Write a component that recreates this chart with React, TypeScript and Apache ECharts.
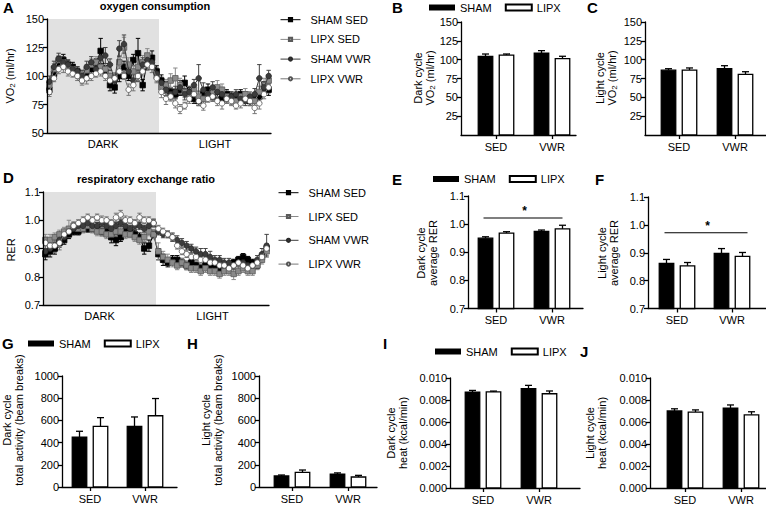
import React, { useEffect, useRef } from 'react';
import * as echarts from 'echarts';

const FONT = '"Liberation Sans", Arial, Helvetica, sans-serif';

// ---------- Panel A: oxygen consumption (ml/hr), 24 dark + 24 light bins ----------
const vo2ShamSedDark = [88, 102, 112, 114, 110, 108, 104, 98, 100, 106, 110, 122, 104, 92, 90, 100, 108, 100, 114, 120, 92, 112, 116, 104];
const vo2ShamSedLight = [96, 90, 86, 84, 88, 94, 86, 80, 78, 84, 88, 82, 86, 80, 84, 82, 80, 84, 82, 78, 80, 82, 90, 88];
const vo2LipxSedDark = [92, 106, 114, 112, 108, 106, 102, 100, 105, 110, 112, 108, 106, 100, 98, 112, 125, 110, 104, 108, 112, 118, 108, 100];
const vo2LipxSedLight = [90, 92, 96, 98, 92, 86, 84, 88, 82, 80, 84, 86, 90, 88, 82, 80, 78, 82, 84, 80, 78, 86, 92, 96];
const vo2ShamVwrDark = [95, 108, 115, 112, 110, 106, 104, 100, 108, 112, 106, 116, 118, 110, 96, 124, 128, 104, 96, 100, 110, 114, 112, 102];
const vo2ShamVwrLight = [94, 88, 84, 86, 90, 84, 86, 92, 98, 88, 84, 90, 86, 84, 80, 82, 84, 80, 78, 82, 84, 98, 90, 100];
const vo2LipxVwrDark = [86, 98, 106, 108, 104, 102, 100, 96, 98, 100, 102, 104, 100, 96, 98, 104, 100, 88, 92, 100, 104, 110, 108, 98];
const vo2LipxVwrLight = [86, 80, 82, 76, 71, 74, 80, 84, 78, 74, 80, 82, 78, 76, 80, 78, 74, 76, 80, 78, 72, 76, 84, 90];

const vo2ShamSedErr = [4, 5, 5, 5, 4, 4, 4, 4, 4, 5, 5, 11, 5, 5, 5, 5, 5, 4, 5, 13, 5, 6, 6, 5, 5, 5, 4, 4, 5, 6, 4, 4, 4, 4, 5, 4, 5, 4, 4, 4, 4, 4, 4, 4, 4, 5, 5, 5];
const vo2LipxSedErr = [5, 5, 4, 4, 4, 4, 4, 5, 5, 5, 5, 5, 5, 5, 5, 6, 9, 6, 5, 5, 6, 6, 5, 5, 5, 5, 6, 9, 6, 5, 5, 5, 5, 4, 5, 5, 6, 5, 5, 5, 4, 4, 5, 4, 4, 5, 6, 5];
const vo2ShamVwrErr = [5, 5, 5, 5, 4, 4, 4, 5, 5, 5, 5, 6, 7, 5, 5, 7, 8, 5, 5, 5, 6, 5, 5, 5, 5, 5, 5, 5, 6, 5, 5, 5, 12, 6, 5, 5, 5, 5, 4, 4, 4, 5, 4, 4, 5, 12, 5, 5];
const vo2LipxVwrErr = [4, 3, 4, 5, 4, 3, 4, 4, 5, 4, 3, 4, 4, 5, 4, 4, 3, 5, 5, 4, 4, 5, 5, 4, 5, 5, 4, 4, 4, 3, 4, 5, 4, 4, 3, 4, 4, 5, 4, 4, 3, 4, 4, 4, 5, 5, 4, 5];

// ---------- Panel D: respiratory exchange ratio ----------
const rerShamSedDark = [0.88, 0.89, 0.90, 0.92, 0.93, 0.95, 0.96, 0.96, 0.97, 0.97, 0.97, 0.97, 0.96, 0.96, 0.94, 0.93, 0.94, 0.96, 0.96, 0.95, 0.94, 0.90, 0.91, 0.95];
const rerShamSedLight = [0.88, 0.86, 0.85, 0.86, 0.86, 0.85, 0.84, 0.85, 0.84, 0.83, 0.84, 0.83, 0.84, 0.83, 0.83, 0.84, 0.85, 0.86, 0.87, 0.86, 0.85, 0.84, 0.87, 0.90];
const rerLipxSedDark = [0.93, 0.93, 0.94, 0.95, 0.96, 0.97, 0.98, 0.97, 0.97, 0.98, 0.97, 0.96, 0.96, 0.95, 0.95, 0.96, 0.96, 0.95, 0.95, 0.94, 0.93, 0.94, 0.96, 0.95];
const rerLipxSedLight = [0.89, 0.87, 0.86, 0.85, 0.84, 0.85, 0.84, 0.83, 0.83, 0.82, 0.83, 0.82, 0.82, 0.81, 0.82, 0.82, 0.81, 0.82, 0.83, 0.82, 0.82, 0.84, 0.86, 0.89];
const rerShamVwrDark = [0.89, 0.90, 0.91, 0.93, 0.94, 0.96, 0.97, 0.98, 0.98, 0.99, 0.98, 0.98, 0.99, 0.98, 0.97, 0.98, 0.99, 0.98, 0.97, 0.98, 0.98, 0.97, 0.98, 0.99];
const rerShamVwrLight = [0.96, 0.95, 0.95, 0.94, 0.93, 0.92, 0.91, 0.90, 0.89, 0.88, 0.88, 0.87, 0.86, 0.86, 0.85, 0.85, 0.84, 0.85, 0.85, 0.84, 0.84, 0.86, 0.88, 0.91];
const rerLipxVwrDark = [0.92, 0.91, 0.91, 0.92, 0.95, 0.96, 0.98, 0.99, 1.00, 1.01, 1.00, 1.01, 1.00, 1.00, 0.99, 1.01, 1.02, 1.00, 1.00, 0.99, 1.01, 1.00, 1.00, 0.99];
const rerLipxVwrLight = [0.97, 0.96, 0.95, 0.94, 0.91, 0.89, 0.88, 0.87, 0.87, 0.86, 0.86, 0.85, 0.85, 0.84, 0.84, 0.83, 0.84, 0.85, 0.84, 0.83, 0.84, 0.85, 0.87, 0.90];

const rerShamSedErr = [0.02, 0.02, 0.02, 0.015, 0.015, 0.015, 0.012, 0.012, 0.012, 0.012, 0.012, 0.012, 0.015, 0.015, 0.02, 0.02, 0.015, 0.012, 0.012, 0.015, 0.015, 0.02, 0.02, 0.015, 0.02, 0.02, 0.015, 0.015, 0.015, 0.015, 0.015, 0.012, 0.012, 0.012, 0.012, 0.012, 0.012, 0.012, 0.012, 0.012, 0.012, 0.012, 0.012, 0.012, 0.012, 0.012, 0.015, 0.015];
const rerLipxSedErr = [0.02, 0.02, 0.015, 0.015, 0.015, 0.03, 0.015, 0.015, 0.015, 0.012, 0.015, 0.015, 0.015, 0.015, 0.015, 0.015, 0.015, 0.015, 0.012, 0.015, 0.015, 0.015, 0.015, 0.015, 0.03, 0.02, 0.02, 0.015, 0.015, 0.015, 0.015, 0.015, 0.015, 0.015, 0.015, 0.015, 0.015, 0.015, 0.015, 0.015, 0.02, 0.015, 0.015, 0.015, 0.015, 0.015, 0.015, 0.015];
const rerShamVwrErr = [0.02, 0.02, 0.02, 0.015, 0.015, 0.012, 0.012, 0.012, 0.012, 0.012, 0.012, 0.012, 0.012, 0.012, 0.012, 0.012, 0.012, 0.012, 0.012, 0.012, 0.012, 0.012, 0.012, 0.012, 0.012, 0.012, 0.012, 0.015, 0.015, 0.015, 0.015, 0.015, 0.015, 0.02, 0.02, 0.02, 0.015, 0.015, 0.015, 0.015, 0.015, 0.015, 0.015, 0.015, 0.015, 0.015, 0.02, 0.04];
const rerLipxVwrErr = [0.02, 0.02, 0.025, 0.025, 0.015, 0.012, 0.012, 0.012, 0.012, 0.012, 0.012, 0.012, 0.015, 0.012, 0.012, 0.015, 0.015, 0.015, 0.012, 0.012, 0.015, 0.012, 0.012, 0.015, 0.012, 0.012, 0.012, 0.012, 0.012, 0.012, 0.012, 0.012, 0.012, 0.012, 0.012, 0.012, 0.012, 0.012, 0.012, 0.012, 0.012, 0.012, 0.012, 0.012, 0.012, 0.012, 0.015, 0.015];

const timeGroups = ['SHAM SED', 'LIPX SED', 'SHAM VWR', 'LIPX VWR'];
const phaseLabels = ['DARK', 'LIGHT'];

// ---------- Bar panels (SED, VWR) ----------
const barCategories = ['SED', 'VWR'];
const barGroups = ['SHAM', 'LIPX'];

const vo2DarkSham = [104.5, 108.5];
const vo2DarkShamErr = [3, 3.5];
const vo2DarkLipx = [106, 101.5];
const vo2DarkLipxErr = [1.5, 3];

const vo2LightSham = [86, 88];
const vo2LightShamErr = [2, 4];
const vo2LightLipx = [86, 80.5];
const vo2LightLipxErr = [3, 3.5];

const rerDarkSham = [0.950, 0.974];
const rerDarkShamErr = [0.005, 0.005];
const rerDarkLipx = [0.968, 0.983];
const rerDarkLipxErr = [0.005, 0.013];

const rerLightSham = [0.862, 0.898];
const rerLightShamErr = [0.014, 0.017];
const rerLightLipx = [0.853, 0.887];
const rerLightLipxErr = [0.012, 0.014];

const actDarkSham = [450, 546];
const actDarkShamErr = [52, 85];
const actDarkLipx = [547, 642];
const actDarkLipxErr = [78, 155];

const actLightSham = [99, 115];
const actLightShamErr = [9, 12];
const actLightLipx = [132, 90];
const actLightLipxErr = [21, 15];

const heatDarkSham = [0.00872, 0.00903];
const heatDarkShamErr = [0.00015, 0.0003];
const heatDarkLipx = [0.00873, 0.00857];
const heatDarkLipxErr = [0.00008, 0.00025];

const heatLightSham = [0.00700, 0.00725];
const heatLightShamErr = [0.0002, 0.0003];
const heatLightLipx = [0.00690, 0.00665];
const heatLightLipxErr = [0.0002, 0.00028];

// significance brackets (y value of the line)
const sigDarkRer = 1.022;
const sigLightRer = 0.972;

// tick values
const vo2BarTicks = [25, 50, 75, 100, 125, 150];
const rerTicks = [0.7, 0.8, 0.9, 1.0, 1.1];
const actTicks = [0, 200, 400, 600, 800, 1000];
const heatTicks = [0, 0.002, 0.004, 0.006, 0.008, 0.010];
const vo2LineTicks = [50, 75, 100, 125, 150];

// ---------- styles ----------
const groupStyle: Record<string, any> = {
  'SHAM SED': { symbol: 'rect', fill: '#000', border: '#000', line: '#000', err: '#000' },
  'LIPX SED': { symbol: 'rect', fill: '#8a8a8a', border: '#5a5a5a', line: '#8a8a8a', err: '#8a8a8a' },
  'SHAM VWR': { symbol: 'circle', fill: '#3c3c3c', border: '#2a2a2a', line: '#3c3c3c', err: '#444' },
  'LIPX VWR': { symbol: 'circle', fill: '#fff', border: '#555', line: '#777', err: '#777' },
};

const AX = { color: '#000', width: 1.3 };
const LBL = { color: '#000', fontSize: 11, fontFamily: FONT };

function buildOption() {
  const grid: any[] = [];
  const xAxis: any[] = [];
  const yAxis: any[] = [];
  const series: any[] = [];

  // ---- time-course panels ----
  const linePanels = [
    {
      left: 47, top: 19, right: 271, bottom: 133, yMin: 50, yMax: 150, interval: 25, digits: 0, ticks: vo2LineTicks,
      data: [
        vo2ShamSedDark.concat(vo2ShamSedLight), vo2LipxSedDark.concat(vo2LipxSedLight),
        vo2ShamVwrDark.concat(vo2ShamVwrLight), vo2LipxVwrDark.concat(vo2LipxVwrLight),
      ],
      err: [vo2ShamSedErr, vo2LipxSedErr, vo2ShamVwrErr, vo2LipxVwrErr],
    },
    {
      left: 43, top: 192, right: 269, bottom: 305, yMin: 0.7, yMax: 1.1, interval: 0.1, digits: 1, ticks: rerTicks,
      data: [
        rerShamSedDark.concat(rerShamSedLight), rerLipxSedDark.concat(rerLipxSedLight),
        rerShamVwrDark.concat(rerShamVwrLight), rerLipxVwrDark.concat(rerLipxVwrLight),
      ],
      err: [rerShamSedErr, rerLipxSedErr, rerShamVwrErr, rerLipxVwrErr],
    },
  ];

  linePanels.forEach((p) => {
    const gi = grid.length;
    const n = p.data[0].length;
    grid.push({ left: p.left, top: p.top, width: p.right - p.left, height: p.bottom - p.top });
    xAxis.push({
      type: 'value', gridIndex: gi, min: 0, max: n, z: 10,
      axisLine: { show: true, onZero: false, lineStyle: AX },
      axisTick: { show: false },
      splitLine: { show: false },
      axisLabel: {
        ...LBL, margin: 5, customValues: [n / 4, (3 * n) / 4],
        formatter: (v: number) => (v < n / 2 ? phaseLabels[0] : phaseLabels[1]),
      },
    });
    yAxis.push({
      type: 'value', gridIndex: gi, min: p.yMin, max: p.yMax, interval: p.interval, z: 10,
      axisLine: { show: true, onZero: false, lineStyle: AX },
      axisTick: { show: true, length: 4, lineStyle: AX, customValues: p.ticks },
      splitLine: { show: false },
      axisLabel: { ...LBL, margin: 3, customValues: p.ticks, formatter: (v: number) => v.toFixed(p.digits) },
    });
    // dark-phase shading
    series.push({
      type: 'custom', name: 'dark phase', xAxisIndex: gi, yAxisIndex: gi, z: 1, silent: true,
      data: [[0, n / 2]],
      renderItem: (params: any, api: any) => {
        const a = api.coord([api.value(0), p.yMax]);
        const b = api.coord([api.value(1), p.yMin]);
        return { type: 'rect', shape: { x: a[0], y: a[1], width: b[0] - a[0], height: b[1] - a[1] }, style: { fill: '#e1e1e1' } };
      },
    });
    timeGroups.forEach((g, k) => {
      const st = groupStyle[g];
      series.push({
        type: 'custom', name: g + ' error', xAxisIndex: gi, yAxisIndex: gi, z: 2, silent: true,
        data: p.data[k].map((v, i) => [i + 0.5, v, p.err[k][i]]),
        renderItem: (params: any, api: any) => {
          const x = api.value(0), y = api.value(1), e = api.value(2);
          const t = api.coord([x, y + e]);
          const b = api.coord([x, y - e]);
          const c = 2.2;
          const s = { stroke: st.err, lineWidth: 1 };
          return {
            type: 'group', children: [
              { type: 'line', shape: { x1: t[0], y1: t[1], x2: b[0], y2: b[1] }, style: s },
              { type: 'line', shape: { x1: t[0] - c, y1: t[1], x2: t[0] + c, y2: t[1] }, style: s },
              { type: 'line', shape: { x1: b[0] - c, y1: b[1], x2: b[0] + c, y2: b[1] }, style: s },
            ],
          };
        },
      });
    });
    timeGroups.forEach((g, k) => {
      const st = groupStyle[g];
      series.push({
        type: 'line', name: g, xAxisIndex: gi, yAxisIndex: gi, z: 3 + k,
        data: p.data[k].map((v, i) => [i + 0.5, v]),
        symbol: st.symbol, symbolSize: 5.5, showAllSymbol: true,
        lineStyle: { color: st.line, width: 1 },
        itemStyle: { color: st.fill, borderColor: st.border, borderWidth: 0.8 },
      });
    });
  });

  // ---- bar panels ----
  const barPanels = [
    { axisX: 461, sed: 496, vwr: 552, right: 576, top: 22, bottom: 135, yMin: 0, yMax: 150, interval: 25, ticks: vo2BarTicks, digits: 0,
      sham: vo2DarkSham, shamErr: vo2DarkShamErr, lipx: vo2DarkLipx, lipxErr: vo2DarkLipxErr },
    { axisX: 645, sed: 679, vwr: 735, right: 766, top: 22, bottom: 135, yMin: 0, yMax: 150, interval: 25, ticks: vo2BarTicks, digits: 0,
      sham: vo2LightSham, shamErr: vo2LightShamErr, lipx: vo2LightLipx, lipxErr: vo2LightLipxErr },
    { axisX: 468, sed: 496, vwr: 552, right: 583, top: 196, bottom: 308.5, yMin: 0.7, yMax: 1.1, interval: 0.1, ticks: rerTicks, digits: 1,
      sham: rerDarkSham, shamErr: rerDarkShamErr, lipx: rerDarkLipx, lipxErr: rerDarkLipxErr, sig: sigDarkRer, sigR: 0 },
    { axisX: 648, sed: 677, vwr: 732, right: 766, top: 197, bottom: 308.5, yMin: 0.7, yMax: 1.1, interval: 0.1, ticks: rerTicks, digits: 1,
      sham: rerLightSham, shamErr: rerLightShamErr, lipx: rerLightLipx, lipxErr: rerLightLipxErr, sig: sigLightRer, sigR: 5 },
    { axisX: 62, sed: 90, vwr: 145, right: 177, top: 376, bottom: 487, yMin: 0, yMax: 1000, interval: 200, ticks: actTicks, digits: 0,
      sham: actDarkSham, shamErr: actDarkShamErr, lipx: actDarkLipx, lipxErr: actDarkLipxErr },
    { axisX: 259, sed: 292, vwr: 348, right: 377, top: 376, bottom: 487, yMin: 0, yMax: 1000, interval: 200, ticks: actTicks, digits: 0,
      sham: actLightSham, shamErr: actLightShamErr, lipx: actLightLipx, lipxErr: actLightLipxErr },
    { axisX: 450, sed: 483, vwr: 539, right: 580, top: 378, bottom: 488, yMin: 0, yMax: 0.01, interval: 0.002, ticks: heatTicks, digits: 3,
      sham: heatDarkSham, shamErr: heatDarkShamErr, lipx: heatDarkLipx, lipxErr: heatDarkLipxErr },
    { axisX: 650, sed: 685, vwr: 741, right: 766, top: 378, bottom: 488, yMin: 0, yMax: 0.01, interval: 0.002, ticks: heatTicks, digits: 3,
      sham: heatLightSham, shamErr: heatLightShamErr, lipx: heatLightLipx, lipxErr: heatLightLipxErr },
  ];

  const HALF = 10.5, BW = 14.5, CAP = 3.5;

  barPanels.forEach((p: any) => {
    const gi = grid.length;
    const unit = p.vwr - p.sed;
    grid.push({ left: p.axisX, top: p.top, width: p.right - p.axisX, height: p.bottom - p.top });
    xAxis.push({
      type: 'value', gridIndex: gi,
      min: 1 - (p.sed - p.axisX) / unit, max: 2 + (p.right - p.vwr) / unit,
      axisLine: { show: true, onZero: false, lineStyle: AX },
      axisTick: { show: true, length: 4, lineStyle: AX, customValues: [1, 2] },
      splitLine: { show: false },
      axisLabel: { ...LBL, margin: 6, customValues: [1, 2], formatter: (v: number) => barCategories[Math.round(v) - 1] },
    });
    yAxis.push({
      type: 'value', gridIndex: gi, min: p.yMin, max: p.yMax, interval: p.interval,
      axisLine: { show: true, onZero: false, lineStyle: AX },
      axisTick: { show: true, length: 4, lineStyle: AX, customValues: p.ticks },
      splitLine: { show: false },
      axisLabel: { ...LBL, margin: 3, customValues: p.ticks, formatter: (v: number) => v.toFixed(p.digits) },
    });
    const mk = (name: string, vals: number[], errs: number[], offset: number, fill: string) => ({
      type: 'custom', name, xAxisIndex: gi, yAxisIndex: gi, z: 3,
      itemStyle: fill === '#000' ? { color: '#000' } : { color: '#fff', borderColor: '#000', borderWidth: 1.2 },
      data: vals.map((v, i) => [i + 1, v, errs[i]]),
      renderItem: (params: any, api: any) => {
        const x = api.value(0), y = api.value(1), e = api.value(2);
        const t = api.coord([x, y]);
        const b = api.coord([x, p.yMin]);
        const et = api.coord([x, y + e]);
        const cx = t[0] + offset;
        const s = { stroke: '#000', lineWidth: 1.3 };
        return {
          type: 'group', children: [
            { type: 'line', shape: { x1: cx, y1: t[1], x2: cx, y2: et[1] }, style: s },
            { type: 'line', shape: { x1: cx - CAP, y1: et[1], x2: cx + CAP, y2: et[1] }, style: s },
            { type: 'rect', shape: { x: cx - BW / 2, y: t[1], width: BW, height: b[1] - t[1] }, style: { fill, stroke: '#000', lineWidth: 1.3 } },
          ],
        };
      },
    });
    series.push(mk(barGroups[0], p.sham, p.shamErr, -HALF, '#000'));
    series.push(mk(barGroups[1], p.lipx, p.lipxErr, HALF, '#fff'));
    if (p.sig !== undefined) {
      series.push({
        type: 'custom', name: 'significance', xAxisIndex: gi, yAxisIndex: gi, z: 4, silent: true,
        data: [[1, 2, p.sig]],
        renderItem: (params: any, api: any) => {
          const a = api.coord([api.value(0), api.value(2)]);
          const b = api.coord([api.value(1), api.value(2)]);
          const x1 = a[0] - HALF - 2, x2 = b[0] + HALF + p.sigR;
          return {
            type: 'group', children: [
              { type: 'line', shape: { x1, y1: a[1], x2, y2: b[1] }, style: { stroke: '#000', lineWidth: 1.1 } },
              { type: 'text', x: (x1 + x2) / 2 + 1.5, y: a[1] - 1, style: { text: '*', fill: '#000', font: 'bold 12px ' + FONT, align: 'center', verticalAlign: 'bottom' } },
            ],
          };
        },
      });
    }
  });

  const lineLegend = (left: number, top: number, gap: number) => ({
    orient: 'vertical', left, top, padding: 0, itemGap: gap, itemWidth: 20, itemHeight: 4, selectedMode: false,
    lineStyle: { width: 1 },
    data: timeGroups, textStyle: { ...LBL, lineHeight: 13, padding: [0, 0, 0, 5] },
  });
  const barLegend = (left: number, top: number) => ({
    orient: 'horizontal', left, top, padding: 0, itemGap: 13, itemWidth: 26, itemHeight: 6, icon: 'rect', selectedMode: false,
    data: barGroups, textStyle: { ...LBL, lineHeight: 13 },
  });

  const sub = { s: { fontSize: 8, fontFamily: FONT, verticalAlign: 'bottom', padding: [5, 0, 0, 0] } };
  const yTitle = (x: number, y: number, text: string) => ({
    type: 'text', x, y, rotation: Math.PI / 2, silent: true,
    style: { text, rich: sub, fill: '#000', font: '11px ' + FONT, align: 'center', verticalAlign: 'middle', lineHeight: 12 },
  });
  const letter = (x: number, y: number, t: string) => ({
    type: 'text', x, y, silent: true, style: { text: t, fill: '#000', font: 'bold 15px ' + FONT, verticalAlign: 'top' },
  });
  const title = (x: number, y: number, t: string) => ({
    type: 'text', x, y, silent: true, style: { text: t, fill: '#000', font: 'bold 11px ' + FONT, align: 'center', verticalAlign: 'middle' },
  });

  const graphic = [
    letter(3, 0, 'A'), letter(392, 0, 'B'), letter(587, 0, 'C'),
    letter(3, 169.5, 'D'), letter(392, 171.5, 'E'), letter(595, 171.5, 'F'),
    letter(2, 336, 'G'), letter(187, 336, 'H'), letter(383, 336, 'I'), letter(580, 343.5, 'J'),
    title(155, 6, 'oxygen consumption'),
    title(146, 179, 'respiratory exchange ratio'),
    yTitle(10, 76, 'VO{s|2} (ml/hr)'),
    yTitle(11, 250, 'RER'),
    yTitle(424, 78, 'Dark cycle\nVO{s|2} (ml/hr)'),
    yTitle(606, 78, 'Light cycle\nVO{s|2} (ml/hr)'),
    yTitle(427, 253, 'Dark cycle\naverage RER'),
    yTitle(608, 253, 'Light cycle\naverage RER'),
    yTitle(13, 420, 'Dark cycle\ntotal activity (beam breaks)'),
    yTitle(212, 420, 'Light cycle\ntotal activity (beam breaks)'),
    yTitle(397, 433, 'Dark cycle\nheat (kcal/min)'),
    yTitle(596, 433, 'Light cycle\nheat (kcal/min)'),
  ];

  return {
    animation: false,
    backgroundColor: '#fff',
    textStyle: { fontFamily: FONT },
    grid, xAxis, yAxis, series, graphic,
    legend: [
      lineLegend(280, 13.2, 6.7),
      lineLegend(278, 186.2, 10.8),
      barLegend(429, 1),
      barLegend(433, 172.5),
      barLegend(28, 337),
      barLegend(435, 345),
    ],
  };
}

export default function App() {
  const ref = useRef<HTMLDivElement>(null);
  useEffect(() => {
    document.body.style.margin = '0';
    const chart = echarts.init(ref.current as HTMLDivElement, null, { renderer: 'svg' });
    chart.setOption(buildOption() as any);
    return () => chart.dispose();
  }, []);
  return <div ref={ref} style={{ width: 766, height: 506 }} />;
}
